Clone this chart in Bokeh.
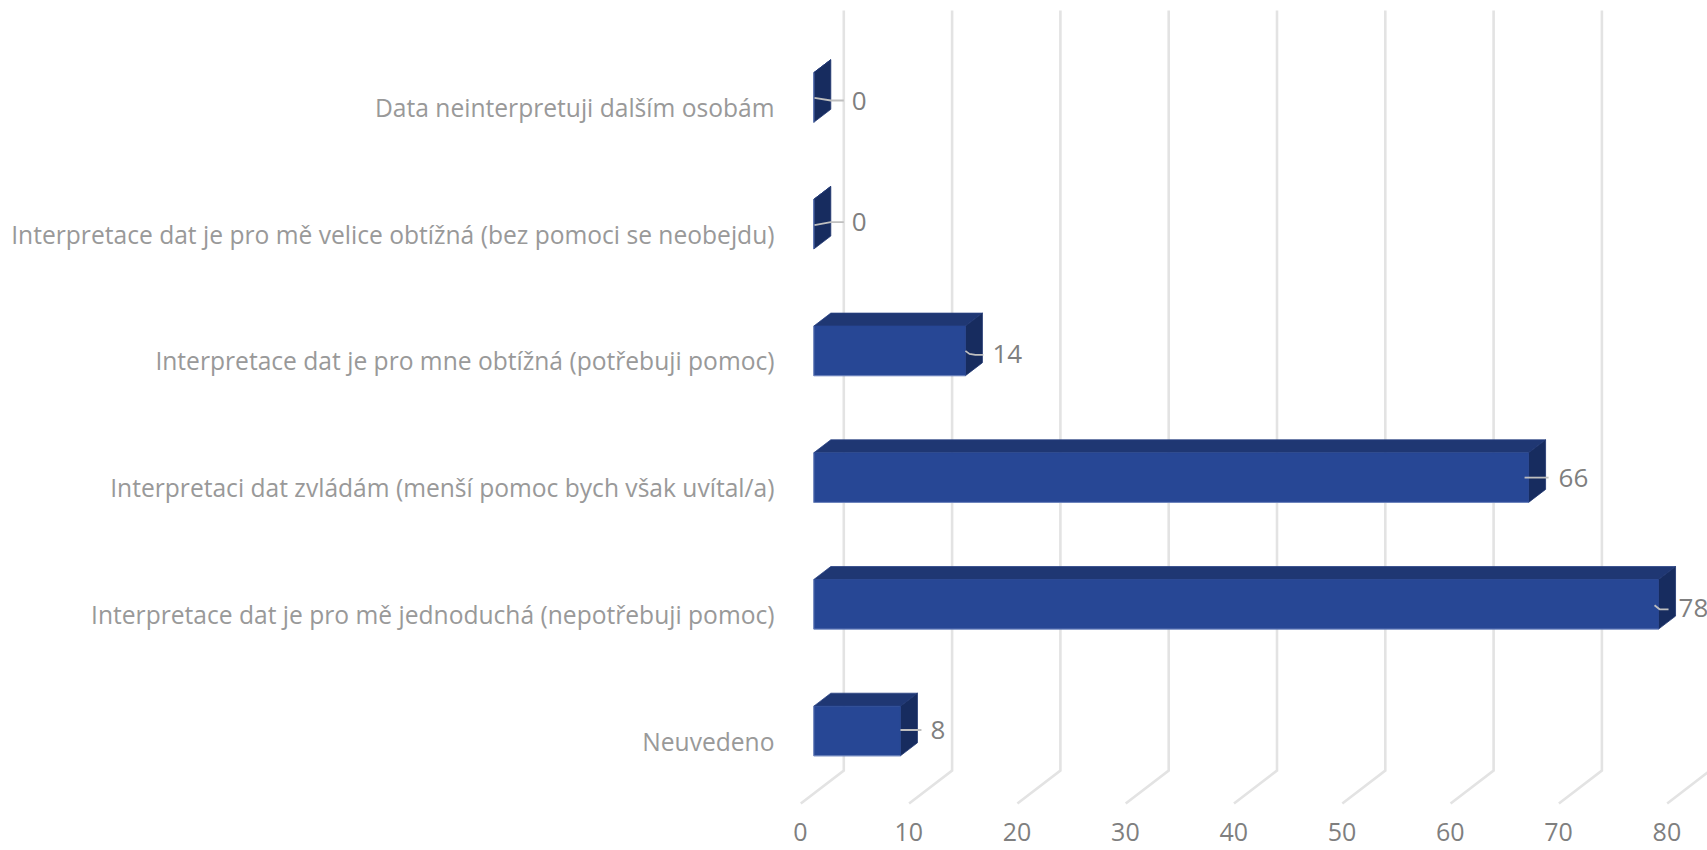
from bokeh.embed import file_html
from bokeh.resources import INLINE
from bokeh.plotting import figure
from bokeh.models import LinearAxis, Range1d, FixedTicker, ColumnDataSource
from bokeh.core.properties import value

categories = [
    "Neuvedeno",
    "Interpretace dat je pro mě jednoduchá (nepotřebuji pomoc)",
    "Interpretaci dat zvládám (menší pomoc bych však uvítal/a)",
    "Interpretace dat je pro mne obtížná (potřebuji pomoc)",
    "Interpretace dat je pro mě velice obtížná (bez pomoci se neobejdu)",
    "Data neinterpretuji dalším osobám",
]
values = [8, 78, 66, 14, 0, 0]
x_ticks = [0, 10, 20, 30, 40, 50, 60, 70, 80]

FONT = "Open Sans"
W, H = 1707, 850
SX, SY = 10.83, 126.7            # pixels per value unit / per category
LEFT, BOTTOM, TOP = 788, 34, 8   # figure borders
FW, FH = W - LEFT, H - BOTTOM - TOP    # frame size
ZERO_PX, ROW0_PX = 25.3, 85.5    # bar origin from frame left, first row from frame bottom
DX, DY = 17.0 / SX, 13.0 / SY    # bar depth
HALF = 24.8 / SY                 # bar half height
WALL = 30.0 / SX                 # back wall shift from bar origin
FLOOR_DX, FLOOR_DY = 43.0 / SX, 33.0 / SY

x0 = -ZERO_PX / SX
y0 = -ROW0_PX / SY
p = figure(width=W, height=H, output_backend="svg", toolbar_location=None,
           x_range=Range1d(x0, x0 + FW / SX), y_range=Range1d(y0, y0 + FH / SY),
           x_axis_location=None, y_axis_location=None,
           min_border_left=LEFT, min_border_right=0, min_border_top=TOP, min_border_bottom=BOTTOM)
p.outline_line_color = None
p.grid.visible = False
p.background_fill_color = "white"
p.border_fill_color = "white"

# Back wall and floor grid lines
floor_y = y0 + 46.0 / SY
top_y_wall = y0 + 806.0 / SY
wall_xs, wall_ys = [], []
for t in x_ticks:
    xw = t + WALL
    wall_xs.append([xw, xw, xw - FLOOR_DX])
    wall_ys.append([top_y_wall, floor_y, floor_y - FLOOR_DY])
p.multi_line(wall_xs, wall_ys, line_color="#E3E3E3", line_width=2.6, line_join="miter")

# Bars
rows = list(range(len(values)))
front_x, front_y, top_x, top_y, side_x, side_y = [], [], [], [], [], []
edge_x, edge_y = [], []
for r, v in zip(rows, values):
    lo, hi = r - HALF, r + HALF
    top_x.append([0, DX, v + DX, v])
    top_y.append([hi, hi + DY, hi + DY, hi])
    side_x.append([v, v + DX, v + DX, v])
    side_y.append([hi, hi + DY, lo + DY, lo])
    front_x.append([0, v, v, 0])
    front_y.append([hi, hi, lo, lo])
    edge_x.append([0, 0, v])
    edge_y.append([hi, lo, lo])

p.patches(top_x, top_y, fill_color="#1F3773", line_color="#2A4384", line_width=0.8)
p.patches(side_x, side_y, fill_color="#172C5F", line_color="#1E3570", line_width=0.8)
p.patches(front_x, front_y, fill_color="#274795", line_color="#274795", line_width=0.5)
p.multi_line(edge_x, edge_y, line_color="#6F86BE", line_width=1)

# Leader lines: pixel offsets from the front right corner centre of each bar
leaders = [
    [(0, -1), (21, -1)],
    [(-4, 1), (1, 5), (10, 5)],
    [(-4, 0), (20, 0)],
    [(0, 0), (4, 3), (10, 4), (18, 4)],
    [(0.7, 1), (17, -2), (30, -2)],
    [(0.7, 0.3), (17, 3), (30, 3)],
]
lx = [[v + a / SX for a, _ in seg] for v, seg in zip(values, leaders)]
ly = [[r - b / SY for _, b in seg] for r, seg in zip(rows, leaders)]
p.multi_line(lx, ly, line_color="#BFBFBF", line_width=1.8)

# Data labels
src = ColumnDataSource(dict(
    x=values, y=rows, t=[str(v) for v in values],
    xo=[30, 20, 30, 27, 38, 38],
    yo=[-1, 4, 0, 3.5, -2.5, 3.5],
))
p.text("x", "y", text="t", source=src, x_offset="xo", y_offset="yo",
       text_font=value(FONT), text_font_size="26px", text_color="#7F7F7F",
       text_baseline="middle", text_align="left")

# Axes
fx0 = -(ZERO_PX - 13.3) / SX
p.extra_x_ranges["floor"] = Range1d(fx0, fx0 + FW / SX)
xa = LinearAxis(x_range_name="floor", ticker=FixedTicker(ticks=x_ticks))
xa.axis_line_color = None
xa.major_tick_line_color = None
xa.minor_tick_line_color = None
xa.major_tick_out = 0
xa.major_tick_in = 0
xa.major_label_standoff = 6
xa.major_label_text_font = FONT
xa.major_label_text_font_size = "25px"
xa.major_label_text_color = "#7F7F7F"
p.add_layout(xa, "below")

ly0 = y0 + 10.0 / SY
p.extra_y_ranges["labels"] = Range1d(ly0, ly0 + FH / SY)
ya = LinearAxis(y_range_name="labels", ticker=FixedTicker(ticks=rows),
                major_label_overrides={r: c for r, c in zip(rows, categories)})
ya.axis_line_color = None
ya.major_tick_line_color = None
ya.minor_tick_line_color = None
ya.major_tick_out = 0
ya.major_tick_in = 0
ya.major_label_standoff = 14
ya.major_label_text_font = FONT
ya.major_label_text_font_size = "24.6px"
ya.major_label_text_color = "#999999"
p.add_layout(ya, "left")

open("out.html", "w").write(file_html(p, INLINE))
